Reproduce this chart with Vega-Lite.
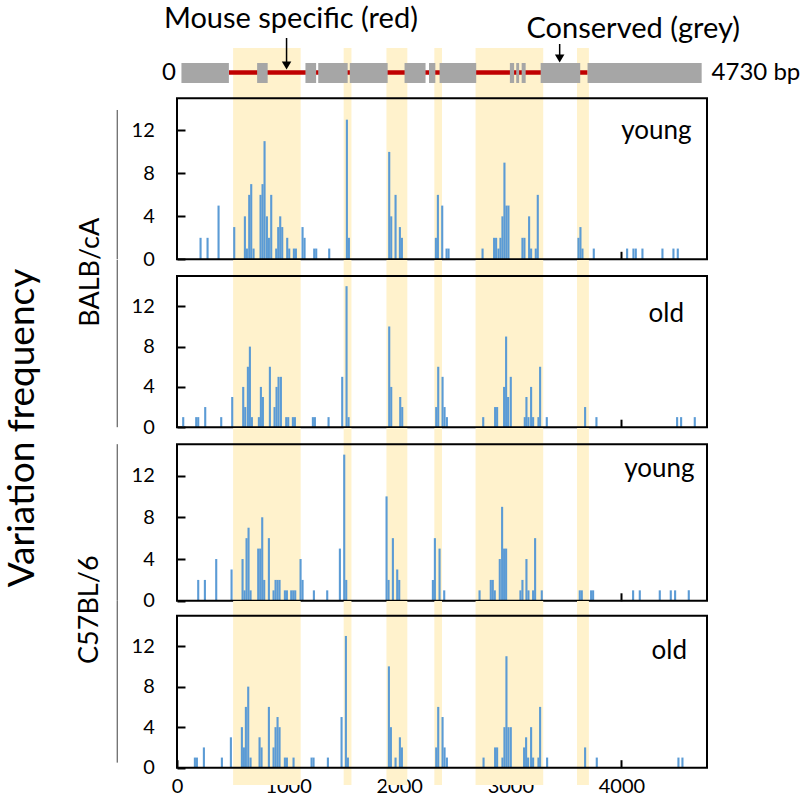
{
  "$schema": "https://vega.github.io/schema/vega-lite/v6.json",
  "padding": {"left": 3, "top": 5, "right": 0, "bottom": 0},
  "background": "white",
  "spacing": 0,
  "bounds": "flush",
  "config": {
    "view": {"stroke": null},
    "font": "Lato",
    "bar": {"binSpacing": 0},
    "axis": {"labelFont": "Lato", "labelFontSize": 20, "labelColor": "black", "titleFont": "Lato", "titleColor": "black", "titleFontWeight": "normal", "grid": false, "domain": false, "ticks": true, "tickColor": "black", "tickWidth": 2, "tickSize": -8, "zindex": 1, "minExtent": 0, "labelFlush": false, "format": "d"},
    "text": {"font": "Lato", "color": "black"}
  },
  "datasets": {
    "bands": [{"start": 505, "end": 1113}, {"start": 1500, "end": 1570}, {"start": 1885, "end": 2073}, {"start": 2316, "end": 2385}, {"start": 2687, "end": 3296}, {"start": 3600, "end": 3707}],
    "exons": [{"start": 40, "end": 467}, {"start": 721, "end": 816}, {"start": 1156, "end": 1252}, {"start": 1271, "end": 1536}, {"start": 1555, "end": 1896}, {"start": 2048, "end": 2237}, {"start": 2268, "end": 2325}, {"start": 2363, "end": 2693}, {"start": 2996, "end": 3034}, {"start": 3053, "end": 3079}, {"start": 3102, "end": 3138}, {"start": 3273, "end": 3629}, {"start": 3695, "end": 4722}],
    "bars": [
      {"panel": "BALB young", "pos": 198, "freq": 2}, {"panel": "BALB young", "pos": 261, "freq": 2}, {"panel": "BALB young", "pos": 360, "freq": 5}, {"panel": "BALB young", "pos": 501, "freq": 3}, {"panel": "BALB young", "pos": 597, "freq": 4}, {"panel": "BALB young", "pos": 615, "freq": 1}, {"panel": "BALB young", "pos": 636, "freq": 6}, {"panel": "BALB young", "pos": 654, "freq": 7}, {"panel": "BALB young", "pos": 675, "freq": 1}, {"panel": "BALB young", "pos": 738, "freq": 6}, {"panel": "BALB young", "pos": 756, "freq": 7}, {"panel": "BALB young", "pos": 774, "freq": 11}, {"panel": "BALB young", "pos": 795, "freq": 4}, {"panel": "BALB young", "pos": 813, "freq": 2}, {"panel": "BALB young", "pos": 834, "freq": 6}, {"panel": "BALB young", "pos": 879, "freq": 1}, {"panel": "BALB young", "pos": 897, "freq": 3}, {"panel": "BALB young", "pos": 915, "freq": 4}, {"panel": "BALB young", "pos": 933, "freq": 3}, {"panel": "BALB young", "pos": 978, "freq": 2}, {"panel": "BALB young", "pos": 996, "freq": 1}, {"panel": "BALB young", "pos": 1038, "freq": 1}, {"panel": "BALB young", "pos": 1056, "freq": 1}, {"panel": "BALB young", "pos": 1116, "freq": 3}, {"panel": "BALB young", "pos": 1134, "freq": 2}, {"panel": "BALB young", "pos": 1221, "freq": 1}, {"panel": "BALB young", "pos": 1239, "freq": 1}, {"panel": "BALB young", "pos": 1356, "freq": 1}, {"panel": "BALB young", "pos": 1515, "freq": 13}, {"panel": "BALB young", "pos": 1533, "freq": 2}, {"panel": "BALB young", "pos": 1896, "freq": 10}, {"panel": "BALB young", "pos": 1914, "freq": 4}, {"panel": "BALB young", "pos": 1953, "freq": 6}, {"panel": "BALB young", "pos": 1992, "freq": 3}, {"panel": "BALB young", "pos": 2010, "freq": 2}, {"panel": "BALB young", "pos": 2316, "freq": 2}, {"panel": "BALB young", "pos": 2334, "freq": 6}, {"panel": "BALB young", "pos": 2373, "freq": 5}, {"panel": "BALB young", "pos": 2412, "freq": 1}, {"panel": "BALB young", "pos": 2430, "freq": 1}, {"panel": "BALB young", "pos": 2736, "freq": 1}, {"panel": "BALB young", "pos": 2840, "freq": 2}, {"panel": "BALB young", "pos": 2858, "freq": 2}, {"panel": "BALB young", "pos": 2879, "freq": 1}, {"panel": "BALB young", "pos": 2897, "freq": 2}, {"panel": "BALB young", "pos": 2915, "freq": 4}, {"panel": "BALB young", "pos": 2933, "freq": 9}, {"panel": "BALB young", "pos": 2951, "freq": 5}, {"panel": "BALB young", "pos": 2969, "freq": 5}, {"panel": "BALB young", "pos": 3095, "freq": 2}, {"panel": "BALB young", "pos": 3113, "freq": 2}, {"panel": "BALB young", "pos": 3155, "freq": 4}, {"panel": "BALB young", "pos": 3173, "freq": 1}, {"panel": "BALB young", "pos": 3215, "freq": 1}, {"panel": "BALB young", "pos": 3233, "freq": 6}, {"panel": "BALB young", "pos": 3599, "freq": 2}, {"panel": "BALB young", "pos": 3617, "freq": 3}, {"panel": "BALB young", "pos": 3635, "freq": 1}, {"panel": "BALB young", "pos": 3737, "freq": 1}, {"panel": "BALB young", "pos": 4037, "freq": 1}, {"panel": "BALB young", "pos": 4094, "freq": 1}, {"panel": "BALB young", "pos": 4115, "freq": 1}, {"panel": "BALB young", "pos": 4175, "freq": 1}, {"panel": "BALB young", "pos": 4355, "freq": 1}, {"panel": "BALB young", "pos": 4454, "freq": 1}, {"panel": "BALB young", "pos": 4493, "freq": 1},
      {"panel": "BALB old", "pos": 42, "freq": 1}, {"panel": "BALB old", "pos": 159, "freq": 1}, {"panel": "BALB old", "pos": 177, "freq": 1}, {"panel": "BALB old", "pos": 240, "freq": 2}, {"panel": "BALB old", "pos": 384, "freq": 1}, {"panel": "BALB old", "pos": 483, "freq": 3}, {"panel": "BALB old", "pos": 582, "freq": 4}, {"panel": "BALB old", "pos": 600, "freq": 2}, {"panel": "BALB old", "pos": 624, "freq": 6}, {"panel": "BALB old", "pos": 642, "freq": 8}, {"panel": "BALB old", "pos": 660, "freq": 1}, {"panel": "BALB old", "pos": 723, "freq": 1}, {"panel": "BALB old", "pos": 741, "freq": 4}, {"panel": "BALB old", "pos": 759, "freq": 3}, {"panel": "BALB old", "pos": 822, "freq": 6}, {"panel": "BALB old", "pos": 864, "freq": 2}, {"panel": "BALB old", "pos": 882, "freq": 4}, {"panel": "BALB old", "pos": 900, "freq": 5}, {"panel": "BALB old", "pos": 921, "freq": 5}, {"panel": "BALB old", "pos": 969, "freq": 1}, {"panel": "BALB old", "pos": 987, "freq": 1}, {"panel": "BALB old", "pos": 1029, "freq": 1}, {"panel": "BALB old", "pos": 1047, "freq": 1}, {"panel": "BALB old", "pos": 1209, "freq": 1}, {"panel": "BALB old", "pos": 1227, "freq": 1}, {"panel": "BALB old", "pos": 1350, "freq": 1}, {"panel": "BALB old", "pos": 1473, "freq": 5}, {"panel": "BALB old", "pos": 1512, "freq": 14}, {"panel": "BALB old", "pos": 1530, "freq": 1}, {"panel": "BALB old", "pos": 1896, "freq": 10}, {"panel": "BALB old", "pos": 1914, "freq": 4}, {"panel": "BALB old", "pos": 1995, "freq": 3}, {"panel": "BALB old", "pos": 2013, "freq": 2}, {"panel": "BALB old", "pos": 2319, "freq": 2}, {"panel": "BALB old", "pos": 2337, "freq": 6}, {"panel": "BALB old", "pos": 2376, "freq": 5}, {"panel": "BALB old", "pos": 2394, "freq": 2}, {"panel": "BALB old", "pos": 2415, "freq": 1}, {"panel": "BALB old", "pos": 2742, "freq": 1}, {"panel": "BALB old", "pos": 2849, "freq": 2}, {"panel": "BALB old", "pos": 2867, "freq": 2}, {"panel": "BALB old", "pos": 2930, "freq": 4}, {"panel": "BALB old", "pos": 2948, "freq": 9}, {"panel": "BALB old", "pos": 2966, "freq": 3}, {"panel": "BALB old", "pos": 2990, "freq": 5}, {"panel": "BALB old", "pos": 3116, "freq": 1}, {"panel": "BALB old", "pos": 3131, "freq": 3}, {"panel": "BALB old", "pos": 3149, "freq": 1}, {"panel": "BALB old", "pos": 3173, "freq": 4}, {"panel": "BALB old", "pos": 3191, "freq": 1}, {"panel": "BALB old", "pos": 3239, "freq": 1}, {"panel": "BALB old", "pos": 3254, "freq": 6}, {"panel": "BALB old", "pos": 3314, "freq": 1}, {"panel": "BALB old", "pos": 3659, "freq": 2}, {"panel": "BALB old", "pos": 3761, "freq": 1}, {"panel": "BALB old", "pos": 4487, "freq": 1}, {"panel": "BALB old", "pos": 4523, "freq": 1}, {"panel": "BALB old", "pos": 4646, "freq": 1},
      {"panel": "C57 young", "pos": 177, "freq": 2}, {"panel": "C57 young", "pos": 237, "freq": 2}, {"panel": "C57 young", "pos": 339, "freq": 4}, {"panel": "C57 young", "pos": 477, "freq": 3}, {"panel": "C57 young", "pos": 576, "freq": 4}, {"panel": "C57 young", "pos": 594, "freq": 1}, {"panel": "C57 young", "pos": 612, "freq": 6}, {"panel": "C57 young", "pos": 630, "freq": 7}, {"panel": "C57 young", "pos": 648, "freq": 1}, {"panel": "C57 young", "pos": 717, "freq": 5}, {"panel": "C57 young", "pos": 735, "freq": 5}, {"panel": "C57 young", "pos": 753, "freq": 8}, {"panel": "C57 young", "pos": 771, "freq": 2}, {"panel": "C57 young", "pos": 813, "freq": 6}, {"panel": "C57 young", "pos": 855, "freq": 1}, {"panel": "C57 young", "pos": 873, "freq": 2}, {"panel": "C57 young", "pos": 891, "freq": 2}, {"panel": "C57 young", "pos": 909, "freq": 2}, {"panel": "C57 young", "pos": 957, "freq": 1}, {"panel": "C57 young", "pos": 975, "freq": 1}, {"panel": "C57 young", "pos": 1014, "freq": 1}, {"panel": "C57 young", "pos": 1032, "freq": 1}, {"panel": "C57 young", "pos": 1050, "freq": 1}, {"panel": "C57 young", "pos": 1098, "freq": 4}, {"panel": "C57 young", "pos": 1116, "freq": 2}, {"panel": "C57 young", "pos": 1218, "freq": 1}, {"panel": "C57 young", "pos": 1338, "freq": 1}, {"panel": "C57 young", "pos": 1452, "freq": 5}, {"panel": "C57 young", "pos": 1491, "freq": 14}, {"panel": "C57 young", "pos": 1509, "freq": 2}, {"panel": "C57 young", "pos": 1872, "freq": 10}, {"panel": "C57 young", "pos": 1890, "freq": 2}, {"panel": "C57 young", "pos": 1929, "freq": 6}, {"panel": "C57 young", "pos": 1968, "freq": 3}, {"panel": "C57 young", "pos": 1986, "freq": 2}, {"panel": "C57 young", "pos": 2289, "freq": 2}, {"panel": "C57 young", "pos": 2307, "freq": 6}, {"panel": "C57 young", "pos": 2349, "freq": 5}, {"panel": "C57 young", "pos": 2391, "freq": 1}, {"panel": "C57 young", "pos": 2709, "freq": 1}, {"panel": "C57 young", "pos": 2810, "freq": 2}, {"panel": "C57 young", "pos": 2828, "freq": 2}, {"panel": "C57 young", "pos": 2846, "freq": 1}, {"panel": "C57 young", "pos": 2891, "freq": 4}, {"panel": "C57 young", "pos": 2912, "freq": 9}, {"panel": "C57 young", "pos": 2930, "freq": 5}, {"panel": "C57 young", "pos": 2948, "freq": 5}, {"panel": "C57 young", "pos": 3077, "freq": 1}, {"panel": "C57 young", "pos": 3095, "freq": 2}, {"panel": "C57 young", "pos": 3131, "freq": 4}, {"panel": "C57 young", "pos": 3149, "freq": 1}, {"panel": "C57 young", "pos": 3191, "freq": 1}, {"panel": "C57 young", "pos": 3209, "freq": 6}, {"panel": "C57 young", "pos": 3269, "freq": 1}, {"panel": "C57 young", "pos": 3611, "freq": 1}, {"panel": "C57 young", "pos": 3629, "freq": 1}, {"panel": "C57 young", "pos": 3713, "freq": 1}, {"panel": "C57 young", "pos": 3731, "freq": 1}, {"panel": "C57 young", "pos": 4091, "freq": 1}, {"panel": "C57 young", "pos": 4151, "freq": 1}, {"panel": "C57 young", "pos": 4331, "freq": 1}, {"panel": "C57 young", "pos": 4430, "freq": 1}, {"panel": "C57 young", "pos": 4469, "freq": 1}, {"panel": "C57 young", "pos": 4592, "freq": 1},
      {"panel": "C57 old", "pos": 147, "freq": 1}, {"panel": "C57 old", "pos": 165, "freq": 1}, {"panel": "C57 old", "pos": 228, "freq": 2}, {"panel": "C57 old", "pos": 390, "freq": 1}, {"panel": "C57 old", "pos": 471, "freq": 3}, {"panel": "C57 old", "pos": 570, "freq": 4}, {"panel": "C57 old", "pos": 588, "freq": 2}, {"panel": "C57 old", "pos": 606, "freq": 6}, {"panel": "C57 old", "pos": 627, "freq": 8}, {"panel": "C57 old", "pos": 648, "freq": 1}, {"panel": "C57 old", "pos": 729, "freq": 3}, {"panel": "C57 old", "pos": 747, "freq": 2}, {"panel": "C57 old", "pos": 813, "freq": 6}, {"panel": "C57 old", "pos": 855, "freq": 2}, {"panel": "C57 old", "pos": 873, "freq": 4}, {"panel": "C57 old", "pos": 891, "freq": 5}, {"panel": "C57 old", "pos": 909, "freq": 4}, {"panel": "C57 old", "pos": 957, "freq": 1}, {"panel": "C57 old", "pos": 975, "freq": 1}, {"panel": "C57 old", "pos": 1035, "freq": 1}, {"panel": "C57 old", "pos": 1197, "freq": 1}, {"panel": "C57 old", "pos": 1215, "freq": 1}, {"panel": "C57 old", "pos": 1344, "freq": 1}, {"panel": "C57 old", "pos": 1467, "freq": 5}, {"panel": "C57 old", "pos": 1506, "freq": 13}, {"panel": "C57 old", "pos": 1524, "freq": 1}, {"panel": "C57 old", "pos": 1893, "freq": 10}, {"panel": "C57 old", "pos": 1911, "freq": 4}, {"panel": "C57 old", "pos": 1953, "freq": 1}, {"panel": "C57 old", "pos": 1992, "freq": 3}, {"panel": "C57 old", "pos": 2010, "freq": 2}, {"panel": "C57 old", "pos": 2319, "freq": 2}, {"panel": "C57 old", "pos": 2337, "freq": 6}, {"panel": "C57 old", "pos": 2376, "freq": 5}, {"panel": "C57 old", "pos": 2394, "freq": 2}, {"panel": "C57 old", "pos": 2415, "freq": 1}, {"panel": "C57 old", "pos": 2745, "freq": 1}, {"panel": "C57 old", "pos": 2849, "freq": 2}, {"panel": "C57 old", "pos": 2867, "freq": 2}, {"panel": "C57 old", "pos": 2915, "freq": 1}, {"panel": "C57 old", "pos": 2933, "freq": 4}, {"panel": "C57 old", "pos": 2951, "freq": 11}, {"panel": "C57 old", "pos": 2969, "freq": 4}, {"panel": "C57 old", "pos": 2990, "freq": 4}, {"panel": "C57 old", "pos": 3110, "freq": 2}, {"panel": "C57 old", "pos": 3128, "freq": 3}, {"panel": "C57 old", "pos": 3146, "freq": 1}, {"panel": "C57 old", "pos": 3173, "freq": 4}, {"panel": "C57 old", "pos": 3191, "freq": 1}, {"panel": "C57 old", "pos": 3239, "freq": 1}, {"panel": "C57 old", "pos": 3254, "freq": 6}, {"panel": "C57 old", "pos": 3317, "freq": 1}, {"panel": "C57 old", "pos": 3659, "freq": 2}, {"panel": "C57 old", "pos": 3764, "freq": 1}, {"panel": "C57 old", "pos": 4499, "freq": 1}, {"panel": "C57 old", "pos": 4535, "freq": 1}
    ]
  },
  "vconcat": [
    {
      "width": 530, "height": 62,
      "layer": [
        {"data": {"name": "bands"}, "mark": {"type": "rect", "color": "#FFF2CC"},
         "encoding": {"x": {"field": "start", "type": "quantitative", "scale": {"domain": [0, 4770], "nice": false, "zero": false}, "axis": null}, "x2": {"field": "end"}}},
        {"data": {"values": [{}]}, "mark": {"type": "rule", "color": "#C00000", "strokeWidth": 4.5},
         "encoding": {"x": {"datum": 467}, "x2": {"datum": 3695}, "y": {"datum": 3.75, "type": "quantitative", "scale": {"domain": [0, 6.2], "nice": false, "zero": false}, "axis": null}}},
        {"data": {"name": "exons"}, "mark": {"type": "rect", "color": "#A6A6A6"},
         "encoding": {"x": {"field": "start", "type": "quantitative"}, "x2": {"field": "end"}, "y": {"datum": 2.7}, "y2": {"datum": 4.7}}},
        {"data": {"values": [{}]}, "mark": {"type": "rule", "color": "black", "strokeWidth": 1.5},
         "encoding": {"x": {"datum": 986}, "y": {"datum": 7.2}, "y2": {"datum": 4.6}}},
        {"data": {"values": [{}]}, "mark": {"type": "point", "shape": "triangle-down", "filled": true, "color": "black", "size": 90, "opacity": 1},
         "encoding": {"x": {"datum": 986}, "y": {"datum": 4.45}}},
        {"data": {"values": [{}]}, "mark": {"type": "rule", "color": "black", "strokeWidth": 1.5},
         "encoding": {"x": {"datum": 3444}, "y": {"datum": 6.6}, "y2": {"datum": 5.3}}},
        {"data": {"values": [{}]}, "mark": {"type": "point", "shape": "triangle-down", "filled": true, "color": "black", "size": 90, "opacity": 1},
         "encoding": {"x": {"datum": 3444}, "y": {"datum": 5.15}}},
        {"data": {"values": [{}]}, "mark": {"type": "text", "fontSize": 29, "align": "center", "baseline": "alphabetic"},
         "encoding": {"x": {"datum": 1025}, "y": {"datum": 8.2}, "text": {"value": "Mouse specific (red)"}}},
        {"data": {"values": [{}]}, "mark": {"type": "text", "fontSize": 29, "align": "center", "baseline": "alphabetic"},
         "encoding": {"x": {"datum": 4106}, "y": {"datum": 7.2}, "text": {"value": "Conserved (grey)"}}},
        {"data": {"values": [{}]}, "mark": {"type": "text", "fontSize": 24, "align": "right", "baseline": "middle", "dx": -1},
         "encoding": {"x": {"datum": 0}, "y": {"datum": 3.73}, "text": {"value": "0"}}},
        {"data": {"values": [{}]}, "mark": {"type": "text", "fontSize": 24, "align": "left", "baseline": "middle", "dx": 9},
         "encoding": {"x": {"datum": 4730}, "y": {"datum": 3.73}, "text": {"value": "4730 bp"}}}
      ]
    },
    {
      "width": 530, "height": 149.3,
      "layer": [
        {"data": {"name": "bands"}, "mark": {"type": "rect", "color": "#FFF2CC"},
         "encoding": {"x": {"field": "start", "type": "quantitative", "scale": {"domain": [0, 4770], "nice": false, "zero": false}, "axis": {"values": [1000, 2000, 3000, 4000], "labels": false, "title": null}}, "x2": {"field": "end"}}},
        {"data": {"name": "bars"}, "transform": [{"filter": "datum.panel == 'BALB young'"}], "mark": {"type": "bar", "color": "#5B9BD5", "binSpacing": 0},
         "encoding": {"x": {"field": "pos", "type": "quantitative", "bin": {"binned": true, "step": 19}},
                      "y": {"field": "freq", "type": "quantitative", "scale": {"domain": [0, 13.9], "nice": false, "zero": false},
                            "axis": {"values": [0, 4, 8, 12], "labelPadding": 30.7, "title": "BALB/cA", "titleX": -78.7, "titleY": 161.8, "titleFontSize": 27, "titleBaseline": "alphabetic", "titleAngle": -90, "titleAlign": "center"}}}},
        {"data": {"values": [{}]}, "mark": {"type": "rect", "filled": false, "stroke": "black", "strokeWidth": 2},
         "encoding": {"x": {"datum": 0}, "x2": {"datum": 4770}, "y": {"datum": 0}, "y2": {"datum": 15}}},
        {"data": {"values": [{}]}, "mark": {"type": "rule", "color": "#404040", "strokeWidth": 1},
         "encoding": {"x": {"datum": -538}, "y": {"datum": 0}, "y2": {"datum": 13.9}}},
        {"data": {"values": [{}]}, "mark": {"type": "text", "fontSize": 26, "align": "center", "baseline": "alphabetic"},
         "encoding": {"x": {"datum": 4314}, "y": {"datum": 11.17}, "text": {"value": "young"}}}
      ]
    },
    {
      "width": 530, "height": 167.2,
      "layer": [
        {"data": {"name": "bands"}, "mark": {"type": "rect", "color": "#FFF2CC"},
         "encoding": {"x": {"field": "start", "type": "quantitative", "scale": {"domain": [0, 4770], "nice": false, "zero": false}, "axis": {"values": [1000, 2000, 3000, 4000], "labels": false, "title": null}}, "x2": {"field": "end"}}},
        {"data": {"name": "bars"}, "transform": [{"filter": "datum.panel == 'BALB old'"}], "mark": {"type": "bar", "color": "#5B9BD5", "binSpacing": 0},
         "encoding": {"x": {"field": "pos", "type": "quantitative", "bin": {"binned": true, "step": 19}},
                      "y": {"field": "freq", "type": "quantitative", "scale": {"domain": [0, 16.6], "nice": false, "zero": false},
                            "axis": {"values": [0, 4, 8, 12], "labelPadding": 30.7, "title": "Variation frequency", "titleX": -143.1, "titleY": 167.5, "titleFontSize": 37, "titleBaseline": "alphabetic", "titleAngle": -90, "titleAlign": "center"}}}},
        {"data": {"values": [{}]}, "mark": {"type": "rect", "filled": false, "stroke": "black", "strokeWidth": 2},
         "encoding": {"x": {"datum": 0}, "x2": {"datum": 4770}, "y": {"datum": 0}, "y2": {"datum": 15}}},
        {"data": {"values": [{}]}, "mark": {"type": "rule", "color": "#404040", "strokeWidth": 1},
         "encoding": {"x": {"datum": -538}, "y": {"datum": 0}, "y2": {"datum": 16.6}}},
        {"data": {"values": [{}]}, "mark": {"type": "text", "fontSize": 26, "align": "center", "baseline": "alphabetic"},
         "encoding": {"x": {"datum": 4404}, "y": {"datum": 10.48}, "text": {"value": "old"}}}
      ]
    },
    {
      "width": 530, "height": 172.8,
      "layer": [
        {"data": {"name": "bands"}, "mark": {"type": "rect", "color": "#FFF2CC"},
         "encoding": {"x": {"field": "start", "type": "quantitative", "scale": {"domain": [0, 4770], "nice": false, "zero": false}, "axis": {"values": [1000, 2000, 3000, 4000], "labels": false, "title": null}}, "x2": {"field": "end"}}},
        {"data": {"name": "bars"}, "transform": [{"filter": "datum.panel == 'C57 young'"}], "mark": {"type": "bar", "color": "#5B9BD5", "binSpacing": 0},
         "encoding": {"x": {"field": "pos", "type": "quantitative", "bin": {"binned": true, "step": 19}},
                      "y": {"field": "freq", "type": "quantitative", "scale": {"domain": [0, 16.55], "nice": false, "zero": false},
                            "axis": {"values": [0, 4, 8, 12], "labelPadding": 30.7, "title": "C57BL/6", "titleX": -79.3, "titleY": 181.2, "titleFontSize": 27, "titleBaseline": "alphabetic", "titleAngle": -90, "titleAlign": "center"}}}},
        {"data": {"values": [{}]}, "mark": {"type": "rect", "filled": false, "stroke": "black", "strokeWidth": 2},
         "encoding": {"x": {"datum": 0}, "x2": {"datum": 4770}, "y": {"datum": 0}, "y2": {"datum": 15}}},
        {"data": {"values": [{}]}, "mark": {"type": "rule", "color": "#404040", "strokeWidth": 1},
         "encoding": {"x": {"datum": -538}, "y": {"datum": 0}, "y2": {"datum": 15}}},
        {"data": {"values": [{}]}, "mark": {"type": "text", "fontSize": 26, "align": "center", "baseline": "alphabetic"},
         "encoding": {"x": {"datum": 4341}, "y": {"datum": 11.81}, "text": {"value": "young"}}}
      ]
    },
    {
      "width": 530, "height": 166.7,
      "layer": [
        {"data": {"name": "bands"}, "mark": {"type": "rect", "color": "#FFF2CC"},
         "encoding": {"x": {"field": "start", "type": "quantitative", "scale": {"domain": [0, 4770], "nice": false, "zero": false}, "axis": {"values": [0, 1000, 2000, 3000, 4000], "labels": true, "labelPadding": 17, "title": null}}, "x2": {"field": "end"}, "y": {"datum": -1.7}, "y2": {"datum": 16.45}}},
        {"data": {"name": "bars"}, "transform": [{"filter": "datum.panel == 'C57 old'"}], "mark": {"type": "bar", "color": "#5B9BD5", "binSpacing": 0},
         "encoding": {"x": {"field": "pos", "type": "quantitative", "bin": {"binned": true, "step": 19}},
                      "y": {"field": "freq", "type": "quantitative", "scale": {"domain": [0, 16.45], "nice": false, "zero": false},
                            "axis": {"values": [0, 4, 8, 12], "labelPadding": 30.7, "title": null}}}},
        {"data": {"values": [{}]}, "mark": {"type": "rect", "filled": false, "stroke": "black", "strokeWidth": 2},
         "encoding": {"x": {"datum": 0}, "x2": {"datum": 4770}, "y": {"datum": 0}, "y2": {"datum": 15}}},
        {"data": {"values": [{}]}, "mark": {"type": "rule", "color": "#404040", "strokeWidth": 1},
         "encoding": {"x": {"datum": -538}, "y": {"datum": 0.5}, "y2": {"datum": 16.45}}},
        {"data": {"values": [{}]}, "mark": {"type": "text", "fontSize": 26, "align": "center", "baseline": "alphabetic"},
         "encoding": {"x": {"datum": 4431}, "y": {"datum": 10.69}, "text": {"value": "old"}}}
      ]
    }
  ]
}
